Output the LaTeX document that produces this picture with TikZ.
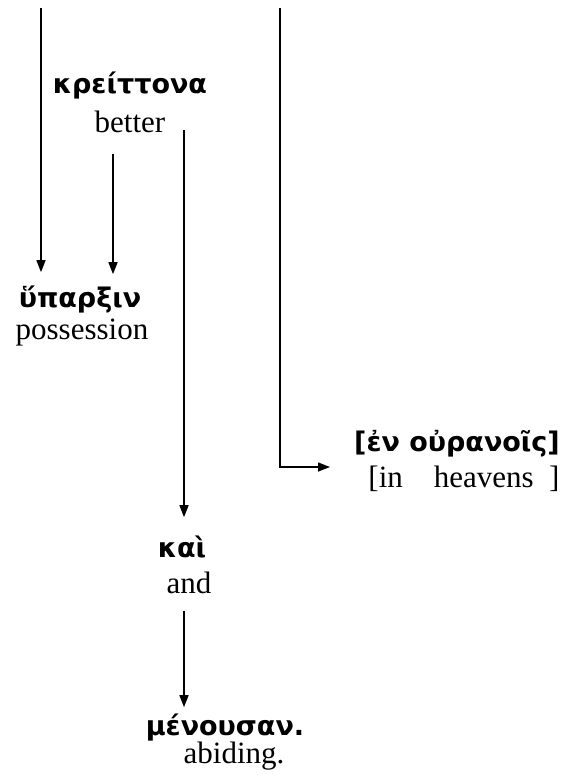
\documentclass[tikz,border=0pt]{standalone}
\usepackage{fontspec}
\setmainfont{Liberation Serif}
\newfontfamily\grk{DejaVu Sans}
\usetikzlibrary{arrows.meta,calc}
\begin{document}
\begin{tikzpicture}[x=1pt,y=-1pt,
  gr/.style={inner sep=0pt,anchor=base,font=\grk\bfseries\fontsize{27}{30}\selectfont},
  en/.style={inner sep=0pt,anchor=base,font=\fontsize{31}{36}\selectfont},
  conn/.style={line width=1.4pt,-{Triangle[length=12pt,width=9pt]}}]
\useasboundingbox (0,0) rectangle (565,781);
% texts
\node[gr] (kreittona) at (130,94) {κρείττονα};
\node[en] (better) at (130,132) {better};
\node[gr] (hyparxin) at (80,307) {ὕπαρξιν};
\node[en] (possession) at (82,339) {possession};
\node[gr] (enouranois) at (457,451) {[ἐν οὐρανοῖς]};
\node[en] (inheavens) at (464,487) {[in\quad heavens\ \ ]};
\node[gr] (kai) at (182,557) {καὶ};
\node[en] (and) at (189,593) {and};
\node[gr] (menousan) at (225,735) {μένουσαν.};
\node[en] (abiding) at (234,763) {abiding.};
% free ends
\coordinate (t1) at (41,8);
\coordinate (t4) at (280,8);
\coordinate (s2) at (113,154);
\coordinate (s3) at (184,130);
\coordinate (e4) at (330,467);
% connectors
\draw[conn,shorten >=13pt] (t1) -- (t1 |- hyparxin.north);
\draw[conn,shorten >=11pt] (s2) -- (s2 |- hyparxin.north);
\draw[conn,shorten >=18pt] (s3) -- (s3 |- kai.north);
\draw[conn] (t4) |- (e4);
\draw[conn,shorten <=17pt,shorten >=6pt] (and.south -| s3) -- (s3 |- menousan.north);
\end{tikzpicture}
\end{document}
